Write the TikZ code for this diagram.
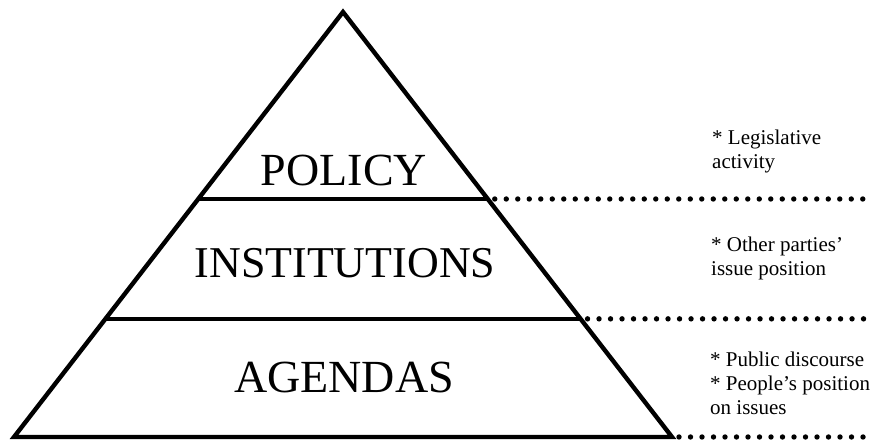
\documentclass[tikz,border=0pt]{standalone}
\usepackage{fontspec}
\setmainfont{Liberation Serif}
\usepackage{tikz}
\usetikzlibrary{calc,positioning}
\tikzset{
  layer/.style={line width=4.4pt,line join=miter},
  dots/.style={line width=5.4pt,line cap=round,dash pattern=on 0pt off 11.5pt},
  level/.style={anchor=base,font=\fontsize{46}{50}\selectfont},
  note/.style={anchor=north west,inner sep=0pt,align=left,font=\fontsize{21}{24}\selectfont}
}

\begin{document}
\begin{tikzpicture}[x=1pt,y=1pt]
    \useasboundingbox (0,0) rectangle (873,443);
    \coordinate (apex) at (343,431);
    \coordinate (bl) at (14,6);
    \coordinate (br) at (672,6);
    \coordinate (east) at (873,0);
    \coordinate (l1) at ($(apex)!0.44!(bl)$);
    \coordinate (r1) at ($(apex)!0.44!(br)$);
    \coordinate (l2) at ($(apex)!0.722!(bl)$);
    \coordinate (r2) at ($(apex)!0.722!(br)$);
    \draw [layer] (apex) -- (br) -- (bl) -- cycle;
    \draw [layer] (l1) -- (r1);
    \draw [layer] (l2) -- (r2);
    \draw [dots] ($(r1)+(7,0)$) -- (r1 -| east);
    \draw [dots] ($(r2)+(7,0)$) -- (r2 -| east);
    \draw [dots] ($(br)+(7,0)$) -- (br -| east);
    \node [level] (policy) at (344,257) {POLICY};
    \node [level,font=\fontsize{44}{50}\selectfont] (inst) at (345,165) {INSTITUTIONS};
    \node [level] (agendas) at (344,50) {AGENDAS};
    \node [note] (n1) at (712,313) {* Legislative\\activity};
    \node [note] (n2) at (711,206) {* Other parties'\\issue position};
    \node [note] (n3) at (710,91) {* Public discourse\\* People's position\\on issues};
  \end{tikzpicture}
\end{document}
